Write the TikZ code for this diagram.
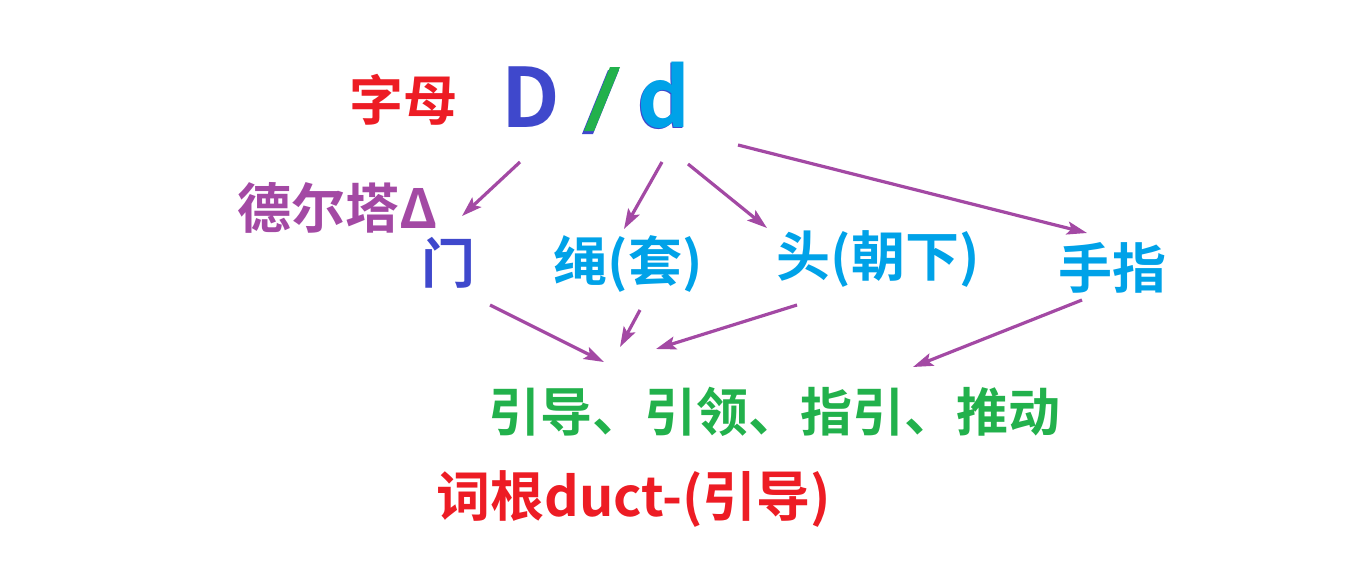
\documentclass[tikz,border=0pt]{standalone}
\usepackage{fontspec}
\setmainfont{Noto Sans CJK SC}[BoldFont={Noto Sans CJK SC Bold}]
\usetikzlibrary{arrows.meta}
\definecolor{cred}{HTML}{ED1C24}
\definecolor{cindigo}{HTML}{3F48CC}
\definecolor{cgreen}{HTML}{22B14C}
\definecolor{cblue}{HTML}{00A2E8}
\definecolor{cpurple}{HTML}{A349A4}
\tikzset{
  lbl/.style={inner sep=0pt, font=\bfseries\fontsize{27}{30}\selectfont},
  big/.style={inner sep=0pt, anchor=base, font=\bfseries\fontsize{41}{45}\selectfont},
  arr/.style={draw=cpurple, line width=1.6pt, -{Stealth[length=10pt,width=6.5pt,inset=2pt]}}
}
\begin{document}
\begin{tikzpicture}[x=0.5pt,y=-0.5pt]
\useasboundingbox[fill=white] (0,0) rectangle (1371,574);
% top
\node[lbl, text=cred] (zimu) at (403,100) {字母};
\node[big, text=cindigo] (D) at (531,127) {D};
% slash with shadow
\fill[cindigo] (608,70) -- (619,70) -- (593,134) -- (582,134) -- cycle;
\fill[cgreen] (610,67) -- (620,67) -- (594,131) -- (584,131) -- cycle;
\node[big, text=cindigo] at (663,128.5) {d};
\node[big, text=cblue] (d) at (664,127) {d};
\node[lbl, text=cpurple] (delta) at (338,208) {德尔塔Δ};
% middle
\node[lbl, text=cindigo] (men) at (448,263) {门};
\node[lbl, text=cblue] (sheng) at (628,264) {绳(套)};
\node[lbl, text=cblue] (tou) at (878,259) {头(朝下)};
\node[lbl, text=cblue] (shou) at (1112,268) {手指};
% bottom
\node[lbl, text=cgreen, font=\bfseries\fontsize{26}{30}\selectfont] (yin) at (774,412) {引导、引领、指引、推动};
\node[lbl, text=cred] (cigen) at (634,499) {词根duct-(引导)};
% arrow end points
\coordinate (a1s) at (520,162); \coordinate (a1e) at (462,216);
\coordinate (a2s) at (662,162); \coordinate (a2e) at (624,229);
\coordinate (a3s) at (688,164); \coordinate (a3e) at (767,228);
\coordinate (a4s) at (738,145); \coordinate (a4e) at (1087,233);
\coordinate (b1s) at (490,305); \coordinate (b1e) at (604,362);
\coordinate (b2s) at (640,310); \coordinate (b2e) at (620,347);
\coordinate (b3s) at (797,305); \coordinate (b3e) at (656,349);
\coordinate (b4s) at (1082,300); \coordinate (b4e) at (913,367);
\draw[arr] (a1s) -- (a1e);
\draw[arr] (a2s) -- (a2e);
\draw[arr] (a3s) -- (a3e);
\draw[arr] (a4s) -- (a4e);
\draw[arr] (b1s) -- (b1e);
\draw[arr] (b2s) -- (b2e);
\draw[arr] (b3s) -- (b3e);
\draw[arr] (b4s) -- (b4e);
\end{tikzpicture}
\end{document}
